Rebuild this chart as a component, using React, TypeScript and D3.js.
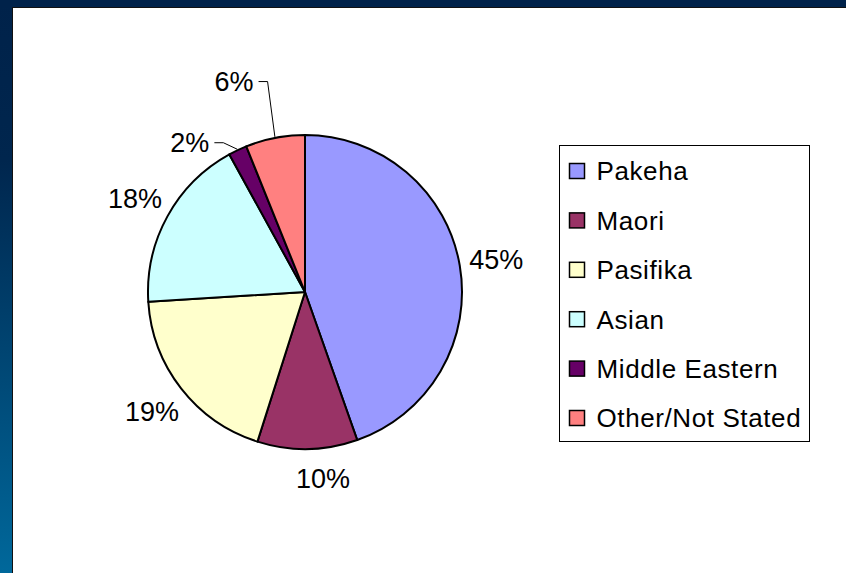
import { useEffect, useRef } from "react";
import * as d3 from "d3";

const categories = ["Pakeha", "Maori", "Pasifika", "Asian", "Middle Eastern", "Other/Not Stated"];
const values = [44.6, 10.3, 19.1, 18.0, 1.9, 6.1];
const colors = ["#9999FF", "#993366", "#FFFFCC", "#CCFFFF", "#660066", "#FF8080"];

// small hand-placed labels (like Excel's dragged data labels)
const labelNudge: Record<string, [number, number]> = {
  "Maori": [15, -8],
  "Middle Eastern": [-32, 26],
  "Other/Not Stated": [-34, -20],
};
const leaderLabels = new Set(["Middle Eastern", "Other/Not Stated"]);

const width = 846;
const height = 573;

export default function App() {
  const ref = useRef<SVGSVGElement>(null);

  useEffect(() => {
    document.body.style.margin = "0";
    const svg = d3.select(ref.current);
    svg.selectAll("*").remove();

    const defs = svg.append("defs");
    const grad = defs.append("linearGradient")
      .attr("id", "bgGrad")
      .attr("x1", "0").attr("y1", "0").attr("x2", "0").attr("y2", "1");
    grad.append("stop").attr("offset", "0%").attr("stop-color", "#00224a");
    grad.append("stop").attr("offset", "28%").attr("stop-color", "#00264e");
    grad.append("stop").attr("offset", "100%").attr("stop-color", "#00689b");

    svg.append("rect").attr("width", width).attr("height", height).attr("fill", "url(#bgGrad)");
    svg.append("rect").attr("width", width).attr("height", 8).attr("fill", "#00224a");

    // white chart area
    svg.append("rect")
      .attr("x", 12.5).attr("y", 7.5)
      .attr("width", width).attr("height", height)
      .attr("fill", "#ffffff")
      .attr("stroke", "#111").attr("stroke-width", 1);

    const cx = 305, cy = 292, r = 157;
    const g = svg.append("g").attr("transform", `translate(${cx},${cy})`);

    const pie = d3.pie<number>().sort(null).value(d => d);
    const arcs = pie(values);
    const arc = d3.arc<d3.PieArcDatum<number>>().innerRadius(0).outerRadius(r);
    const labelArc = d3.arc<d3.PieArcDatum<number>>().innerRadius(194).outerRadius(194);
    const edgeArc = d3.arc<d3.PieArcDatum<number>>().innerRadius(r + 1).outerRadius(r + 1);

    g.selectAll("path.slice")
      .data(arcs)
      .join("path")
      .attr("class", "slice")
      .attr("d", arc)
      .attr("fill", (d, i) => colors[i])
      .attr("stroke", "#000")
      .attr("stroke-width", 2)
      .attr("stroke-linejoin", "round");

    const total = d3.sum(values);
    const fmt = (v: number) => `${Math.round((v / total) * 100)}%`;

    arcs.forEach((d, i) => {
      const name = categories[i];
      const [lx0, ly0] = labelArc.centroid(d);
      const [nx, ny] = labelNudge[name] || [0, 0];
      const lx = lx0 + nx, ly = ly0 + ny;
      const txt = g.append("text")
        .attr("x", lx).attr("y", ly)
        .attr("dy", "0.36em")
        .attr("text-anchor", "middle")
        .attr("font-family", "Liberation Sans, Arial, sans-serif")
        .attr("font-size", 27)
        .attr("fill", "#000")
        .text(fmt(d.value));
      if (leaderLabels.has(name)) {
        const w = (txt.node() as SVGTextElement).getComputedTextLength();
        const sx = lx + w / 2 + 5;
        const [ex, ey] = edgeArc.centroid(d);
        g.append("path")
          .attr("d", d3.line()([[sx, ly], [sx + 9, ly], [ex, ey]]))
          .attr("fill", "none")
          .attr("stroke", "#000")
          .attr("stroke-width", 1);
      }
    });

    // legend
    const legend = svg.append("g").attr("transform", "translate(559.5,145.5)");
    legend.append("rect")
      .attr("width", 250).attr("height", 296)
      .attr("fill", "#fff")
      .attr("stroke", "#000").attr("stroke-width", 1);

    const rowY = d3.scalePoint<string>().domain(categories).range([25.5, 272.5]);
    const rows = legend.selectAll("g.row")
      .data(categories)
      .join("g")
      .attr("class", "row")
      .attr("transform", d => `translate(0,${rowY(d)})`);
    rows.append("rect")
      .attr("x", 10).attr("y", -7.5)
      .attr("width", 15).attr("height", 15)
      .attr("fill", (d, i) => colors[i])
      .attr("stroke", "#000").attr("stroke-width", 1.5);
    rows.append("text")
      .attr("x", 37).attr("y", 0)
      .attr("dy", "0.36em")
      .attr("font-family", "Liberation Sans, Arial, sans-serif")
      .attr("font-size", 26)
      .attr("letter-spacing", 0.6)
      .attr("fill", "#000")
      .text(d => d);
  }, []);

  return (
    <svg ref={ref} width={width} height={height} style={{ display: "block" }} />
  );
}
